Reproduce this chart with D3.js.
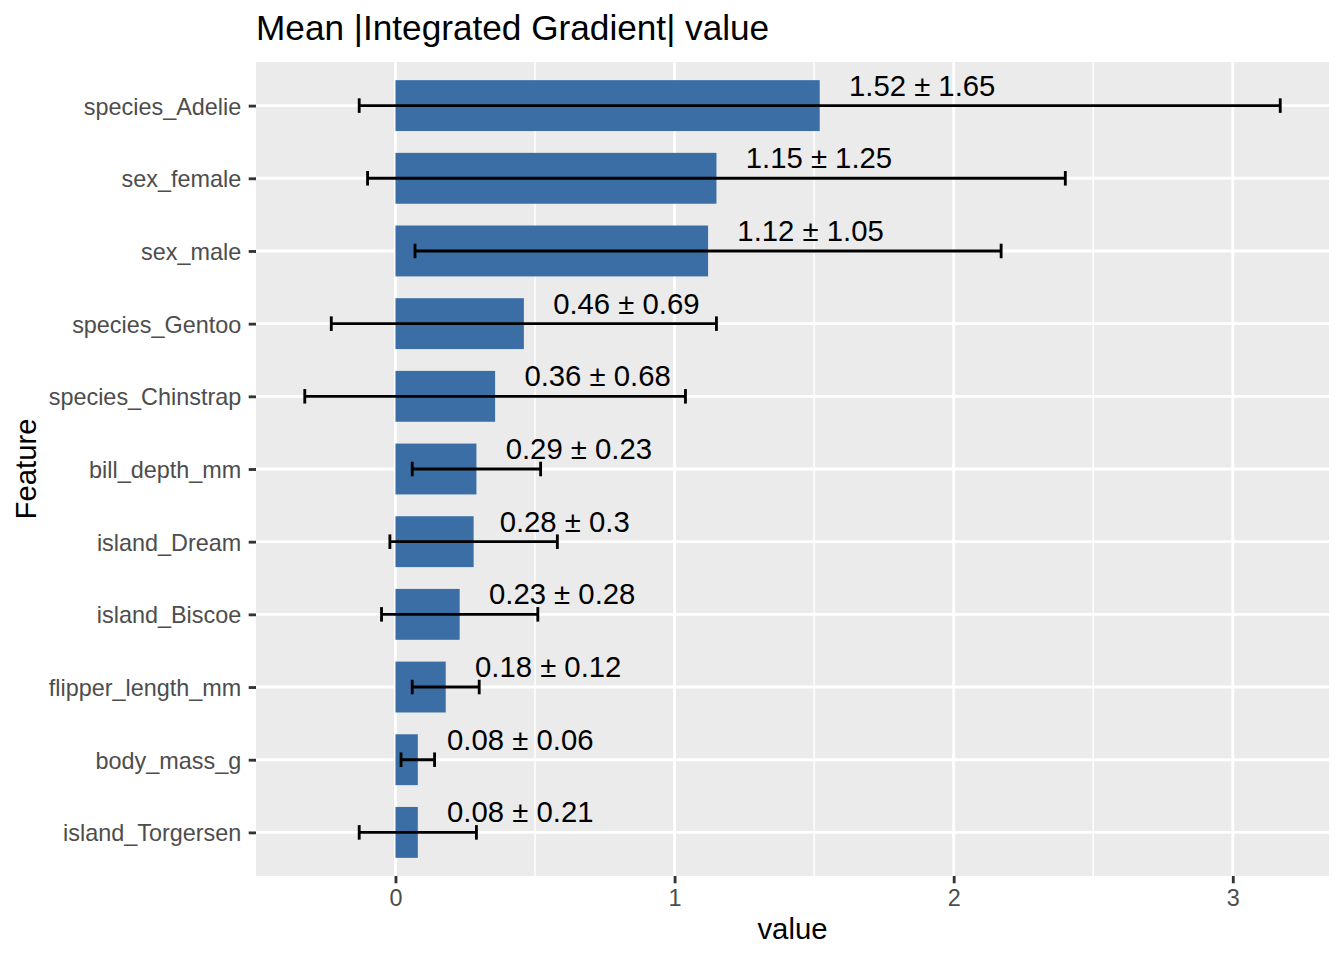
<!DOCTYPE html>
<html>
<head>
<meta charset="utf-8">
<script src="https://cdn.jsdelivr.net/npm/d3@7"></script>
<style>
  body { margin: 0; background: white; }
  svg text { font-family: "Liberation Sans", Arial, Helvetica, sans-serif; }
</style>
</head>
<body>
<div id="graph"></div>
<script>
//Feature names, from top to bottom
const features = ["species_Adelie", "sex_female", "sex_male", "species_Gentoo", "species_Chinstrap",
                  "bill_depth_mm", "island_Dream", "island_Biscoe", "flipper_length_mm", "body_mass_g",
                  "island_Torgersen"];
//Mean |integrated gradient| for each feature
const means = [1.52, 1.15, 1.12, 0.46, 0.357, 0.29, 0.28, 0.23, 0.18, 0.08, 0.08];
//Standard deviation used for the error bars
const sds = [1.65, 1.25, 1.05, 0.69, 0.682, 0.23, 0.3, 0.28, 0.12, 0.06, 0.21];
//Ticks on the value axis
const xTicks = [0, 1, 2, 3];
const xMinorTicks = [-0.5, 0.5, 1.5, 2.5, 3.5];

const width = 1344, height = 960;
//panel edges
const panel = {left: 256, right: 1329, top: 62, bottom: 876};

const rows = features.map((f, i) => ({feature: f, mean: means[i], sd: sds[i]}));

const svg = d3.select('#graph')
              .append('svg')
              .attr('width', width)
              .attr('height', height);

//ggplot style expansion: 5% of the data range on both sides
let lo = d3.min(rows, d => Math.min(0, d.mean - d.sd));
let hi = d3.max(rows, d => d.mean + d.sd);
let pad = (hi - lo) * 0.05;

const x = d3.scaleLinear()
            .domain([lo - pad, hi + pad])
            .range([panel.left, panel.right]);

//discrete axis gets 0.6 of a step on each end
const y = d3.scalePoint()
            .domain(features)
            .range([panel.top, panel.bottom])
            .padding(0.6);
const step = y.step();

//panel background
svg.append('rect')
   .attr('x', panel.left)
   .attr('y', panel.top)
   .attr('width', panel.right - panel.left)
   .attr('height', panel.bottom - panel.top)
   .attr('fill', '#EBEBEB');

const grid = svg.append('g');
//minor grid lines (only the ones inside the panel)
grid.selectAll('.minor')
    .data(xMinorTicks.filter(t => t > x.domain()[0] && t < x.domain()[1]))
    .enter()
    .append('line')
    .attr('x1', d => x(d)).attr('x2', d => x(d))
    .attr('y1', panel.top).attr('y2', panel.bottom)
    .attr('stroke', 'white')
    .attr('stroke-width', 1.42);
//major grid lines
grid.selectAll('.majorx')
    .data(xTicks)
    .enter()
    .append('line')
    .attr('x1', d => x(d)).attr('x2', d => x(d))
    .attr('y1', panel.top).attr('y2', panel.bottom)
    .attr('stroke', 'white')
    .attr('stroke-width', 2.84);
grid.selectAll('.majory')
    .data(features)
    .enter()
    .append('line')
    .attr('x1', panel.left).attr('x2', panel.right)
    .attr('y1', d => y(d)).attr('y2', d => y(d))
    .attr('stroke', 'white')
    .attr('stroke-width', 2.84);

//bars
svg.append('g')
   .selectAll('rect')
   .data(rows)
   .enter()
   .append('rect')
   .attr('x', x(0))
   .attr('y', d => y(d.feature) - step * 0.35)
   .attr('width', d => x(d.mean) - x(0))
   .attr('height', step * 0.7)
   .attr('fill', '#3A6EA5');

//error bars: mean +/- sd with small caps
const err = svg.append('g')
               .attr('stroke', 'black')
               .attr('stroke-width', 2.84)
               .selectAll('g')
               .data(rows)
               .enter()
               .append('g');
err.append('line')
   .attr('x1', d => x(d.mean - d.sd))
   .attr('x2', d => x(d.mean + d.sd))
   .attr('y1', d => y(d.feature))
   .attr('y2', d => y(d.feature));
err.append('line')
   .attr('x1', d => x(d.mean - d.sd))
   .attr('x2', d => x(d.mean - d.sd))
   .attr('y1', d => y(d.feature) - step * 0.1)
   .attr('y2', d => y(d.feature) + step * 0.1);
err.append('line')
   .attr('x1', d => x(d.mean + d.sd))
   .attr('x2', d => x(d.mean + d.sd))
   .attr('y1', d => y(d.feature) - step * 0.1)
   .attr('y2', d => y(d.feature) + step * 0.1);

//value labels, hjust = -0.2 so they start a fifth of their width past the mean
svg.append('g')
   .selectAll('text')
   .data(rows)
   .enter()
   .append('text')
   .text(d => `${+d.mean.toFixed(2)} ± ${+d.sd.toFixed(2)}`)
   .attr('font-size', 29.3)
   .attr('fill', 'black')
   .attr('y', d => y(d.feature) - 10)
   .attr('x', function(d){ return x(d.mean) + 0.2 * this.getComputedTextLength(); });

//x axis
const xAxis = svg.append('g')
                 .attr('transform', `translate(0,${panel.bottom})`)
                 .call(d3.axisBottom(x).tickValues(xTicks).tickSize(7.3).tickPadding(6).tickFormat(d3.format('d')));
xAxis.select('.domain').remove();
xAxis.selectAll('line').attr('stroke', '#333333').attr('stroke-width', 2.84);
xAxis.selectAll('text').attr('fill', '#4D4D4D').attr('font-size', 23.4).attr('dy', 0).attr('y', 29.5);

//y axis
const yAxis = svg.append('g')
                 .attr('transform', `translate(${panel.left},0)`)
                 .call(d3.axisLeft(y).tickSize(7.3).tickPadding(7.5));
yAxis.select('.domain').remove();
yAxis.selectAll('line').attr('stroke', '#333333').attr('stroke-width', 2.84);
yAxis.selectAll('text').attr('fill', '#4D4D4D').attr('font-size', 23.4).attr('dy', 8.4);

//axis titles and chart title
svg.append('text')
   .text('value')
   .attr('x', (panel.left + panel.right) / 2)
   .attr('y', 939)
   .attr('text-anchor', 'middle')
   .attr('font-size', 29.3)
   .attr('fill', 'black');

svg.append('text')
   .text('Feature')
   .attr('transform', `translate(36,${(panel.top + panel.bottom) / 2}) rotate(-90)`)
   .attr('text-anchor', 'middle')
   .attr('font-size', 29.3)
   .attr('fill', 'black');

svg.append('text')
   .text('Mean |Integrated Gradient| value')
   .attr('x', panel.left)
   .attr('y', 40)
   .attr('font-size', 35.2)
   .attr('fill', 'black');
</script>
</body>
</html>
